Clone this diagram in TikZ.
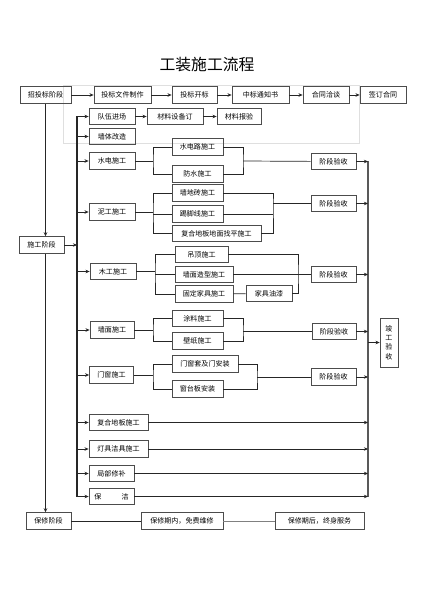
\documentclass[tikz,border=0pt]{standalone}
\usepackage{fontspec}
\newfontfamily\cjk{Noto Sans CJK SC}
\usetikzlibrary{arrows.meta}
\tikzstyle{stage}=[draw=gray!60!black, line width=0.6pt, rectangle, minimum height=5mm, inner sep=1pt, font=\cjk\fontsize{6}{8}\selectfont]
\tikzstyle{link}=[draw=black!85, line width=0.6pt]
\tikzstyle{flow}=[link, -{Stealth[length=3.5pt,width=3pt]}]

\begin{document}
\begin{tikzpicture}[x=0.03cm, y=-0.03cm]
        \useasboundingbox (0,0) rectangle (423,600);
        \node[font=\cjk\fontsize{13.5}{15}\selectfont] (title) at (207,65) {工装施工流程};
        % tender stage
        \draw[gray!25] (63,85) rectangle (359,143);
        \node[stage, minimum width=15.3mm] (zb) at (45.5,95) {招投标阶段};
        \node[stage, minimum width=17.1mm] (tbwj) at (122.5,95) {投标文件制作};
        \node[stage, minimum width=13.5mm] (tbkb) at (194.5,95) {投标开标};
        \node[stage, minimum width=17.1mm] (zbtz) at (260.5,95) {中标通知书};
        \node[stage, minimum width=13.8mm] (htqt) at (326,95) {合同洽谈};
        \node[stage, minimum width=13.8mm] (qdht) at (383,95) {签订合同};
        \draw[flow] (zb) -- (tbwj); \draw[flow] (tbwj) -- (tbkb); \draw[flow] (tbkb) -- (zbtz);
        \draw[flow] (zbtz) -- (htqt); \draw[flow] (htqt) -- (qdht);
        % construction stage
        \node[stage, minimum width=13.8mm] (dwjc) at (112,116.5) {队伍进场};
        \node[stage, minimum width=16.8mm] (clsb) at (175,116.5) {材料设备订};
        \node[stage, minimum width=13.2mm] (clby) at (239,116.5) {材料报验};
        \node[stage, minimum width=13.8mm] (qtgz) at (112,136.5) {墙体改造};
        \draw[flow] (dwjc) -- (clsb); \draw[flow] (clsb) -- (clby);
        \node[stage, minimum width=13.8mm] (sdsg) at (112,161) {水电施工};
        \node[stage, minimum width=15.3mm] (sdl) at (197.5,147) {水电路施工};
        \node[stage, minimum width=15.3mm] (fssg) at (197.5,174) {防水施工};
        \node[stage, minimum width=13.5mm] (ys1) at (333.5,161.5) {阶段验收};
        \node[stage, minimum width=13.8mm] (ngsg) at (112,212) {泥工施工};
        \node[stage, minimum width=15.3mm] (qdz) at (197.5,193) {墙地砖施工};
        \node[stage, minimum width=15.3mm] (tjx) at (197.5,214) {踢脚线施工};
        \node[stage, minimum width=26.7mm] (fhdb) at (216.5,233.5) {复合地板地面找平施工};
        \node[stage, minimum width=13.5mm] (ys2) at (333.5,203.5) {阶段验收};
        \node[stage, minimum width=13.5mm] (sgjd) at (41.5,245) {施工阶段};
        \node[stage, minimum width=13.8mm] (mgsg) at (113,271.5) {木工施工};
        \node[stage, minimum width=15.9mm] (dd) at (201.5,254.5) {吊顶施工};
        \node[stage, minimum width=17.4mm] (qmzx) at (204,274.5) {墙面造型施工};
        \node[stage, minimum width=17.4mm] (gdjj) at (204,294) {固定家具施工};
        \node[stage, minimum width=13.8mm] (jjyq) at (269,293.5) {家具油漆};
        \node[stage, minimum width=13.5mm] (ys3) at (333.5,274.5) {阶段验收};
        \node[stage, minimum width=13.2mm] (qmsg) at (112,330) {墙面施工};
        \node[stage, minimum width=15.3mm] (tl) at (197.5,318.5) {涂料施工};
        \node[stage, minimum width=15.3mm] (bz) at (197.5,341) {壁纸施工};
        \node[stage, minimum width=13.2mm] (ys4) at (334,331.5) {阶段验收};
        \node[stage, minimum width=13.2mm] (mc) at (111.5,375) {门窗施工};
        \node[stage, minimum width=19.8mm] (mct) at (205,364) {门窗套及门安装};
        \node[stage, minimum width=15.3mm] (ctb) at (197.5,389) {窗台板安装};
        \node[stage, minimum width=13.5mm] (ys5) at (333.5,377) {阶段验收};
        \node[stage, minimum width=17.7mm] (fhdb2) at (118.5,422.5) {复合地板施工};
        \node[stage, minimum width=17.7mm] (djjj) at (118.5,449) {灯具洁具施工};
        \node[stage, minimum width=13.5mm] (jbxb) at (111.5,473.5) {局部修补};
        \node[stage, minimum width=13.5mm] (bj) at (111.5,496.5) {保\hspace{6mm}洁};
        \node[stage, minimum width=5.4mm, minimum height=14.7mm, align=center] (jgys) at (389,342.5) {竣\\工\\验\\收};
        % brackets
        \coordinate (b1) at (153,161); \coordinate (r1) at (243,161);
        \draw[link] (sdsg) -- (b1); \draw[link] (sdl.west) -| (b1) |- (fssg.west);
        \draw[link] (sdl.east) -| (r1) |- (fssg.east); \draw[link] (r1) -- (ys1);
        \coordinate (b2) at (153,212); \coordinate (r2) at (273,203.5);
        \draw[link] (ngsg) -- (b2); \draw[link] (qdz.west) -| (b2) |- (fhdb.west);
        \draw[link] (tjx.west) -- (tjx.west -| b2);
        \draw[link] (qdz.east) -| (r2) |- (fhdb.east); \draw[link] (tjx.east) -- (tjx.east -| r2);
        \draw[link] (r2) -- (ys2);
        \coordinate (b3) at (155,271.5); \coordinate (r3) at (298,274.5);
        \draw[link] (mgsg) -- (b3); \draw[link] (dd.west) -| (b3) |- (gdjj.west);
        \draw[link] (qmzx.west) -- (qmzx.west -| b3);
        \draw[link] (dd.east) -| (r3) |- (jjyq.east); \draw[link] (gdjj) -- (jjyq);
        \draw[link, line width=1.1pt] (qmzx) -- (ys3);
        \coordinate (b4) at (153,330); \coordinate (r4) at (243,331.5);
        \draw[link] (qmsg) -- (b4); \draw[link] (tl.west) -| (b4) |- (bz.west);
        \draw[link] (tl.east) -| (r4) |- (bz.east); \draw[link] (r4) -- (ys4);
        \coordinate (b5) at (153,375); \coordinate (r5) at (257,377);
        \draw[link] (mc) -- (b5); \draw[link] (mct.west) -| (b5) |- (ctb.west);
        \draw[link] (mct.east) -| (r5) |- (ctb.east); \draw[link] (r5) -- (ys5);
        % trunks
        \coordinate (lt) at (77,0); \coordinate (rt) at (368,0);
        \draw[link, line width=0.9pt] (dwjc.west -| lt) -- (bj.west -| lt);
        \draw[link, draw=gray!70!black, line width=0.9pt] (ys1.east -| rt) -- (bj.east -| rt);
        \foreach \n in {dwjc,qtgz,sdsg,ngsg,mgsg,qmsg,mc,fhdb2,djjj,jbxb,bj}
             \draw[flow] (\n.west -| lt) -- (\n.west);
        \foreach \n in {ys1,ys2,ys3,ys4,ys5,fhdb2,djjj,jbxb,bj}
             \draw[flow] (\n.east) -- (\n.east -| rt);
        \draw[flow] (jgys.west -| rt) -- (jgys.west);
        \draw[flow] (sgjd.east) -- (sgjd.east -| lt);
        % warranty stage
        \node[stage, minimum width=13.5mm] (bxjd) at (48.5,521) {保修阶段};
        \node[stage, minimum width=24.6mm] (bxqn) at (182,521) {保修期内，免费维修};
        \node[stage, minimum width=26.7mm] (bxqh) at (319.5,521) {保修期后，终身服务};
        \draw[flow] (zb.south) -- (zb.south |- sgjd.north);
        \draw[flow] (zb.south |- sgjd.south) -- (zb.south |- bxjd.north);
        \draw[link] (bxjd) -- (bxqn); \draw[link, draw=gray] (bxqn) -- (bxqh);
    \end{tikzpicture}
\end{document}
